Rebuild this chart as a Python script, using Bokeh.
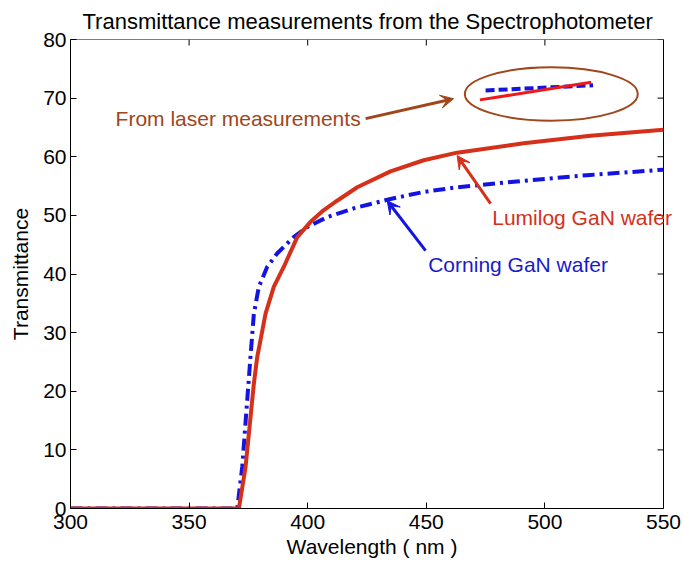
from bokeh.plotting import figure
from bokeh.models import (Range1d, FixedTicker, Label, Arrow, VeeHead)
from bokeh.embed import file_html
from bokeh.resources import INLINE

# ---- data ----
lumilog_wl = [300, 371, 373.8, 375.9, 377.3, 378.7, 380.1, 382.2, 385.7, 389.9, 395.6,
              401.2, 406.8, 412.4, 420.9, 434.9, 448.9, 463.0, 491.1, 519.2, 550]
lumilog_t = [0, 0, 7.1, 15.6, 21.3, 25.8, 28.7, 33.2, 37.8, 41.2, 46.3,
             48.9, 50.9, 52.5, 54.8, 57.5, 59.4, 60.7, 62.3, 63.6, 64.6]

corning_wl = [300, 370.3, 372.4, 374.5, 375.9, 377.3, 379.4, 382.9, 387.1, 394.1, 399.8,
              408.2, 419.4, 434.9, 448.9, 463.0, 491.1, 519.2, 550]
corning_t = [0, 0, 7.1, 18.5, 26.0, 33.2, 37.8, 41.2, 43.5, 46.3, 48.0,
             49.7, 51.2, 52.8, 54.0, 54.8, 55.9, 56.9, 57.8]

laser_corning_wl = [475.0, 520.3]
laser_corning_t = [71.3, 72.2]
laser_lumilog_wl = [472.6, 519.5]
laser_lumilog_t = [69.7, 72.7]

x_ticks = [300, 350, 400, 450, 500, 550]
y_ticks = [0, 10, 20, 30, 40, 50, 60, 70, 80]

X_MIN, X_MAX = 300, 550
Y_MIN, Y_MAX = 0, 80

# annotation anchors (data coords)
ellipse_center = (502.7, 70.7)
ellipse_size = (72.9, 9.1)
laser_arrow = (424.4, 66.5, 461.5, 69.9)
lumilog_arrow = (477.1, 52.0, 463.0, 60.2)
corning_arrow = (449.7, 44.0, 433.5, 52.5)
laser_text = (319.0, 66.6, "From laser measurements")
lumilog_text = (477.8, 49.7, "Lumilog GaN wafer")
corning_text = (450.8, 41.6, "Corning GaN wafer")

FONT = "Liberation Sans"
RED = "#D4301A"
BLUE = "#1414E0"
BROWN = "#A0461A"

# frame geometry (pixels): plot box spans 593 px wide, 469 px tall
BOX_W, BOX_H = 593, 469
EXTRA_RIGHT = 10  # room right of the box, inside the frame, for overflowing text
px_x = (X_MAX - X_MIN) / BOX_W
px_y = (Y_MAX - Y_MIN) / BOX_H

p = figure(width=683, height=567, output_backend="svg", toolbar_location=None,
           x_range=Range1d(X_MIN, X_MAX + EXTRA_RIGHT * px_x), y_range=Range1d(Y_MIN, Y_MAX),
           title="Transmittance measurements from the Spectrophotometer",
           min_border_left=70, min_border_right=683 - 70 - BOX_W - EXTRA_RIGHT,
           min_border_top=39, min_border_bottom=59)

p.title.text_font = FONT
p.title.text_font_size = "22px"
p.title.text_font_style = "normal"
p.title.align = "left"
p.title.offset = 12
p.title.text_color = "black"
p.title.standoff = 12

p.xgrid.visible = False
p.ygrid.visible = False
p.outline_line_color = None
p.background_fill_color = "white"
p.border_fill_color = "white"

for ax in (p.xaxis[0], p.yaxis[0]):
    ax.major_label_text_font = FONT
    ax.major_label_text_font_size = "21px"
    ax.major_label_text_color = "black"
    ax.axis_label_text_font = FONT
    ax.axis_label_text_font_size = "21px"
    ax.axis_label_text_font_style = "normal"
    ax.axis_label_text_color = "black"
    ax.major_tick_in = 6
    ax.major_tick_out = 0
    ax.minor_tick_line_color = None
    ax.axis_line_color = "black"
    ax.major_tick_line_color = "black"

p.xaxis[0].ticker = FixedTicker(ticks=x_ticks)
p.yaxis[0].ticker = FixedTicker(ticks=y_ticks)
p.xaxis[0].bounds = (X_MIN, X_MAX)
p.xaxis[0].axis_label = "Wavelength ( nm )"
p.yaxis[0].axis_label = "Transmittance"
p.xaxis[0].major_label_standoff = 6
p.yaxis[0].major_label_standoff = 4
p.xaxis[0].axis_label_standoff = 3
p.yaxis[0].axis_label_standoff = 8

# top and right edges of the box, with inward ticks
tick_dx = 6 * px_x
tick_dy = 6 * px_y
p.segment(x0=[X_MIN, X_MAX], y0=[Y_MAX, Y_MIN], x1=[X_MAX, X_MAX], y1=[Y_MAX, Y_MAX],
          line_color="black", line_width=1)
p.segment(x0=x_ticks, y0=[Y_MAX] * len(x_ticks), x1=x_ticks,
          y1=[Y_MAX - tick_dy] * len(x_ticks), line_color="black", line_width=1)
p.segment(x0=[X_MAX] * len(y_ticks), y0=y_ticks, x1=[X_MAX - tick_dx] * len(y_ticks),
          y1=y_ticks, line_color="black", line_width=1)

# curves
p.line(corning_wl, corning_t, line_color=BLUE, line_width=4, line_dash="12 5 3 5")
p.line(lumilog_wl, lumilog_t, line_color=RED, line_width=4)

# laser measurements
p.line(laser_corning_wl, laser_corning_t, line_color=BLUE, line_width=4, line_dash="9 4")
p.line(laser_lumilog_wl, laser_lumilog_t, line_color="#F01818", line_width=3)

p.ellipse(x=[ellipse_center[0]], y=[ellipse_center[1]], width=ellipse_size[0],
          height=ellipse_size[1], fill_color=None, line_color=BROWN, line_width=2)

def add_arrow(coords, color):
    x0, y0, x1, y1 = coords
    p.add_layout(Arrow(end=VeeHead(size=13, fill_color=color, line_color=color),
                       x_start=x0, y_start=y0, x_end=x1, y_end=y1,
                       line_color=color, line_width=3))

add_arrow(laser_arrow, BROWN)
add_arrow(lumilog_arrow, RED)
add_arrow(corning_arrow, BLUE)

for (tx, ty, txt), col in ((laser_text, BROWN), (lumilog_text, RED), (corning_text, "#1A1ACC")):
    p.add_layout(Label(x=tx, y=ty, text=txt, text_font=FONT, text_font_size="21px",
                       text_color=col, text_align="left", text_baseline="middle"))

open("out.html", "w").write(file_html(p, INLINE))
